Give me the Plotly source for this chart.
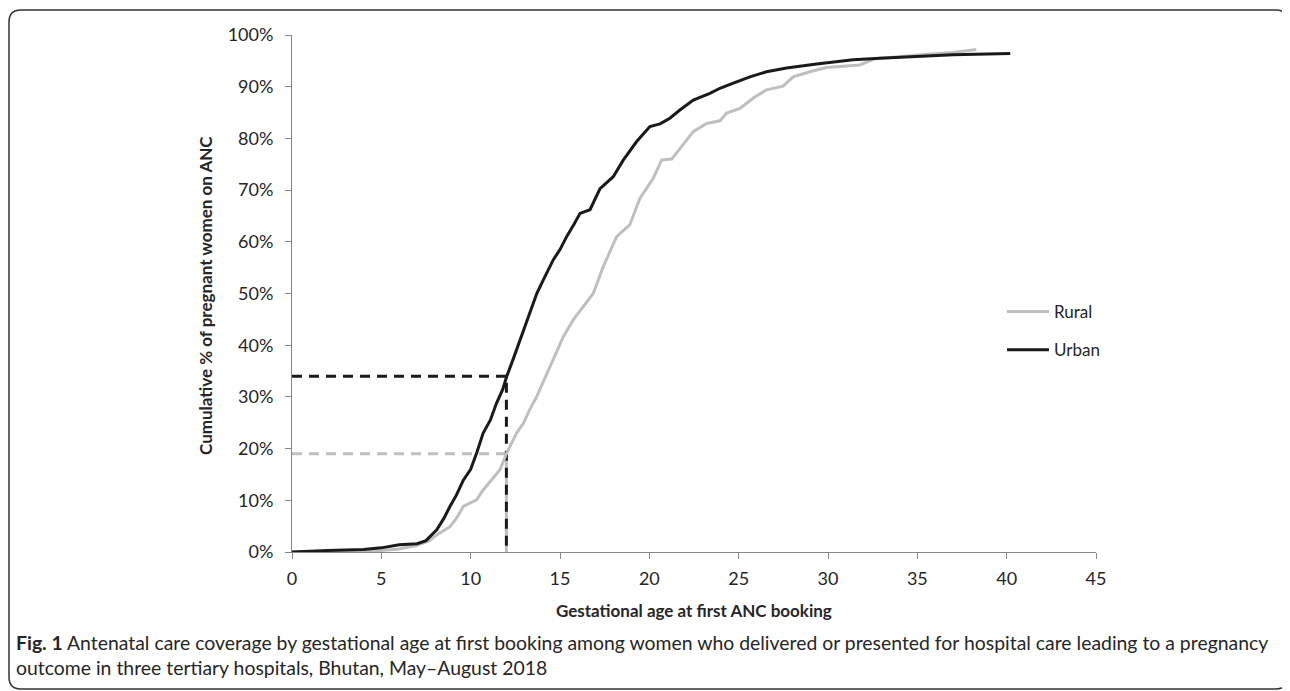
import plotly.graph_objects as go

# ---- data ----
urban_weeks = [0, 1, 2, 3, 4, 5, 5.3, 6, 7, 7.5, 8.1, 8.5, 8.84, 9.2, 9.59, 10.0, 10.33, 10.7,
               11.1, 11.45, 11.8, 12.01, 12.4, 12.76, 13.32, 13.7, 14.06, 14.62, 15.0, 15.37,
               15.8, 16.12, 16.68, 17.24, 17.98, 18.54, 19.29, 20.03, 20.6, 21.15, 21.71,
               22.46, 23.39, 23.95, 24.7, 25.63, 26.56, 27.68, 29.36, 30.5, 31.41, 32.9,
               35, 37, 40.2]
urban_pct = [0, 0.2, 0.3, 0.4, 0.5, 0.8, 1.0, 1.4, 1.6, 2.2, 4.3, 6.5, 8.8, 11, 13.9, 16, 19.1, 23,
             25.5, 28.8, 31.5, 33.9, 37.5, 41, 46.2, 50, 52.6, 56.5, 58.5, 61,
             63.5, 65.5, 66.2, 70.3, 72.6, 75.8, 79.4, 82.3, 82.8, 83.9, 85.5,
             87.4, 88.7, 89.7, 90.7, 91.9, 92.9, 93.6, 94.4, 94.8, 95.2, 95.5,
             95.8, 96.2, 96.4]

rural_weeks = [0, 2, 4, 5, 6, 7, 7.7, 8.1, 8.84, 9.2, 9.59, 10.33, 10.7, 11.08, 11.64, 12.01,
               12.57, 12.95, 13.3, 13.69, 14.25, 14.7, 15.18, 15.74, 16.3, 16.86, 17.42,
               18.17, 18.91, 19.47, 20.22, 20.69, 21.25, 21.71, 22.46, 23.21, 23.95, 24.33,
               25.07, 25.82, 26.56, 27.49, 28.05, 28.98, 29.92, 31.78, 32.16, 32.6, 34,
               35.5, 37, 38.3]
rural_pct = [0, 0.1, 0.2, 0.3, 0.6, 1.3, 2.2, 3.3, 4.9, 6.5, 8.8, 10.1, 12, 13.6, 15.9, 19.1,
             23, 24.9, 27.5, 30, 34.3, 38, 41.6, 44.9, 47.4, 50, 55.2,
             61, 63.3, 68.4, 72.3, 75.8, 76, 78.1, 81.3, 82.9, 83.4, 84.9,
             85.8, 87.8, 89.4, 90.1, 91.9, 92.9, 93.7, 94.2, 94.8, 95.4, 95.8,
             96.3, 96.6, 97.2]

cutoff_week = 12
urban_at_cutoff = 34
rural_at_cutoff = 19

x_ticks = [0, 5, 10, 15, 20, 25, 30, 35, 40, 45]
y_ticks = [0, 10, 20, 30, 40, 50, 60, 70, 80, 90, 100]
y_tick_labels = [f"{v}%" for v in y_ticks]

series_names = ["Rural", "Urban"]
x_title = "Gestational age at first ANC booking"
y_title = "Cumulative % of pregnant women on ANC"
caption = ("<b>Fig. 1</b> Antenatal care coverage by gestational age at first booking among women who "
           "delivered or presented for hospital care leading to a pregnancy<br>outcome in three tertiary "
           "hospitals, Bhutan, May\u2013August 2018")

# ---- layout geometry (screen pixels; the page body adds an 8px offset) ----
OFF = 8
W_FIG, H_FIG = 1290 - OFF, 691 - OFF
L, R, T, B = 292 - OFF, 1096 - OFF, 35 - OFF, 552 - OFF
PW, PH = R - L, B - T


def px2x(px):
    return (px - OFF - L) / PW


def py2y(py):
    return (B - (py - OFF)) / PH


GRAY = "#BFBFBF"
BLACK = "#1A1A1A"
TXT = "#262626"
FONT = "Lato"

fig = go.Figure()

# dashed reference lines
fig.add_trace(go.Scatter(x=[0, cutoff_week, cutoff_week], y=[rural_at_cutoff, rural_at_cutoff, 0],
                         mode="lines", line=dict(color=GRAY, width=3, dash="10px,7px"),
                         showlegend=False, hoverinfo="skip", cliponaxis=False))
fig.add_trace(go.Scatter(x=[0, cutoff_week, cutoff_week], y=[urban_at_cutoff, urban_at_cutoff, 0],
                         mode="lines", line=dict(color=BLACK, width=3, dash="10px,7px"),
                         showlegend=False, hoverinfo="skip", cliponaxis=False))

fig.add_trace(go.Scatter(x=rural_weeks, y=rural_pct, mode="lines", name=series_names[0],
                         line=dict(color=GRAY, width=3), legendgroup="r", cliponaxis=False))
fig.add_trace(go.Scatter(x=urban_weeks, y=urban_pct, mode="lines", name=series_names[1],
                         line=dict(color=BLACK, width=3), legendgroup="u", cliponaxis=False))

axis_common = dict(showgrid=False, zeroline=False, showline=True, linecolor="#868686", linewidth=1,
                   ticks="outside", ticklen=6, tickcolor="#868686", tickwidth=1,
                   tickfont=dict(family=FONT, size=18, color=TXT))

fig.update_xaxes(range=[0, 45], tickvals=x_ticks, ticklabelstandoff=4, **axis_common)
fig.update_yaxes(range=[0, 100], tickvals=y_ticks, ticktext=y_tick_labels, ticklabelstandoff=8,
                 **axis_common)

# border (rounded rectangle)
bx0, bx1, by0, by1, rr = 9, 1288, 10, 689, 12
path = (f"M {px2x(bx0 + rr)},{py2y(by0)} L {px2x(bx1 - rr)},{py2y(by0)} "
        f"Q {px2x(bx1)},{py2y(by0)} {px2x(bx1)},{py2y(by0 + rr)} "
        f"L {px2x(bx1)},{py2y(by1 - rr)} Q {px2x(bx1)},{py2y(by1)} {px2x(bx1 - rr)},{py2y(by1)} "
        f"L {px2x(bx0 + rr)},{py2y(by1)} Q {px2x(bx0)},{py2y(by1)} {px2x(bx0)},{py2y(by1 - rr)} "
        f"L {px2x(bx0)},{py2y(by0 + rr)} Q {px2x(bx0)},{py2y(by0)} {px2x(bx0 + rr)},{py2y(by0)} Z")
fig.add_shape(type="path", path=path, xref="paper", yref="paper",
              line=dict(color="#333333", width=1.5), layer="above")

annotations = [
    dict(text=f"<b>{x_title}</b>", x=px2x(694), y=py2y(610), xref="paper", yref="paper",
         showarrow=False, xanchor="center", yanchor="middle",
         font=dict(family=FONT, size=17, color=TXT)),
    dict(text=f"<b>{y_title}</b>", x=px2x(205), y=py2y(296), xref="paper", yref="paper",
         showarrow=False, xanchor="center", yanchor="middle", textangle=-90,
         font=dict(family=FONT, size=17, color=TXT)),
    dict(text=caption, x=px2x(14), y=py2y(655), xref="paper", yref="paper",
         showarrow=False, xanchor="left", yanchor="middle", align="left",
         font=dict(family=FONT, size=19.4, color=TXT)),
]

fig.update_layout(
    width=W_FIG, height=H_FIG, autosize=False,
    margin=dict(l=L, r=W_FIG - R, t=T, b=H_FIG - B),
    paper_bgcolor="white", plot_bgcolor="white",
    showlegend=True,
    legend=dict(x=px2x(1002), y=py2y(294), xanchor="left", yanchor="top",
                font=dict(family=FONT, size=17, color=TXT), itemwidth=42,
                traceorder="grouped", tracegroupgap=13, bgcolor="rgba(0,0,0,0)"),
    annotations=annotations,
)

fig.write_html("out.html")
